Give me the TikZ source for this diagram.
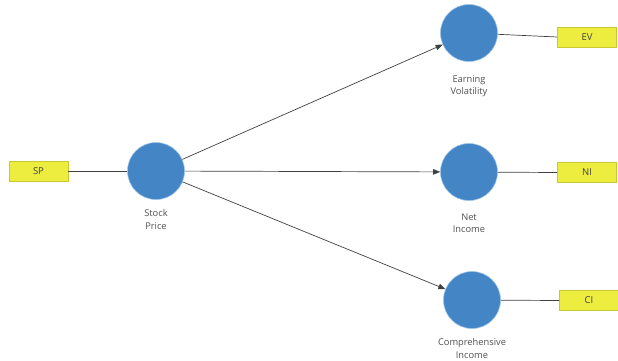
\documentclass[tikz,border=0pt]{standalone}
\usepackage{fontspec}
\setmainfont{Open Sans}
\usetikzlibrary{arrows.meta}
\definecolor{cblue}{HTML}{4485C6}
\definecolor{cborder}{HTML}{9CC3E8}
\definecolor{byellow}{HTML}{EDED3F}
\definecolor{bborder}{HTML}{C8C830}
\definecolor{tgrey}{HTML}{505050}
\begin{document}
\begin{tikzpicture}[x=1pt,y=-1pt,
  lv/.style={circle,fill=cblue,draw=cborder,line width=0.6pt,minimum size=57pt,inner sep=0pt},
  ind/.style={rectangle,fill=byellow,draw=bborder,line width=0.6pt,minimum width=59pt,minimum height=20pt,inner sep=0pt,font=\fontsize{9.5}{10}\selectfont,text=black!75},
  lab/.style={align=center,font=\fontsize{9.3}{12.5}\selectfont,text=tgrey},
  conn/.style={draw=black!75,line width=0.7pt},
  arr/.style={conn,-{Triangle[length=7pt,width=5.5pt]}}]
\useasboundingbox (0,0) rectangle (618,360);
\node[lv] (sp) at (156,171) {};
\node[lv] (ev) at (469,33) {};
\node[lv] (ni) at (469,172) {};
\node[lv] (ci) at (472,300) {};
\node[ind] (bsp) at (38.5,171) {SP};
\node[ind] (bev) at (587,37) {EV};
\node[ind] (bni) at (587,172.5) {NI};
\node[ind] (bci) at (589,300.5) {CI};
\node[lab] (lsp) at (156,219.5) {Stock\\Price};
\node[lab] (lev) at (469,86) {Earning\\Volatility};
\node[lab] (lni) at (469,223) {Net\\Income};
\node[lab] (lci) at (472,348.5) {Comprehensive\\Income};
\draw[conn] (bsp.east) -- (sp);
\draw[arr] (sp) -- (ev);
\draw[arr] (sp) -- (ni);
\draw[arr] (sp) -- (ci);
\draw[conn] (ev) -- (bev.west);
\draw[conn] (ni) -- (bni.west);
\draw[conn] (ci) -- (bci.west);
\end{tikzpicture}
\end{document}
